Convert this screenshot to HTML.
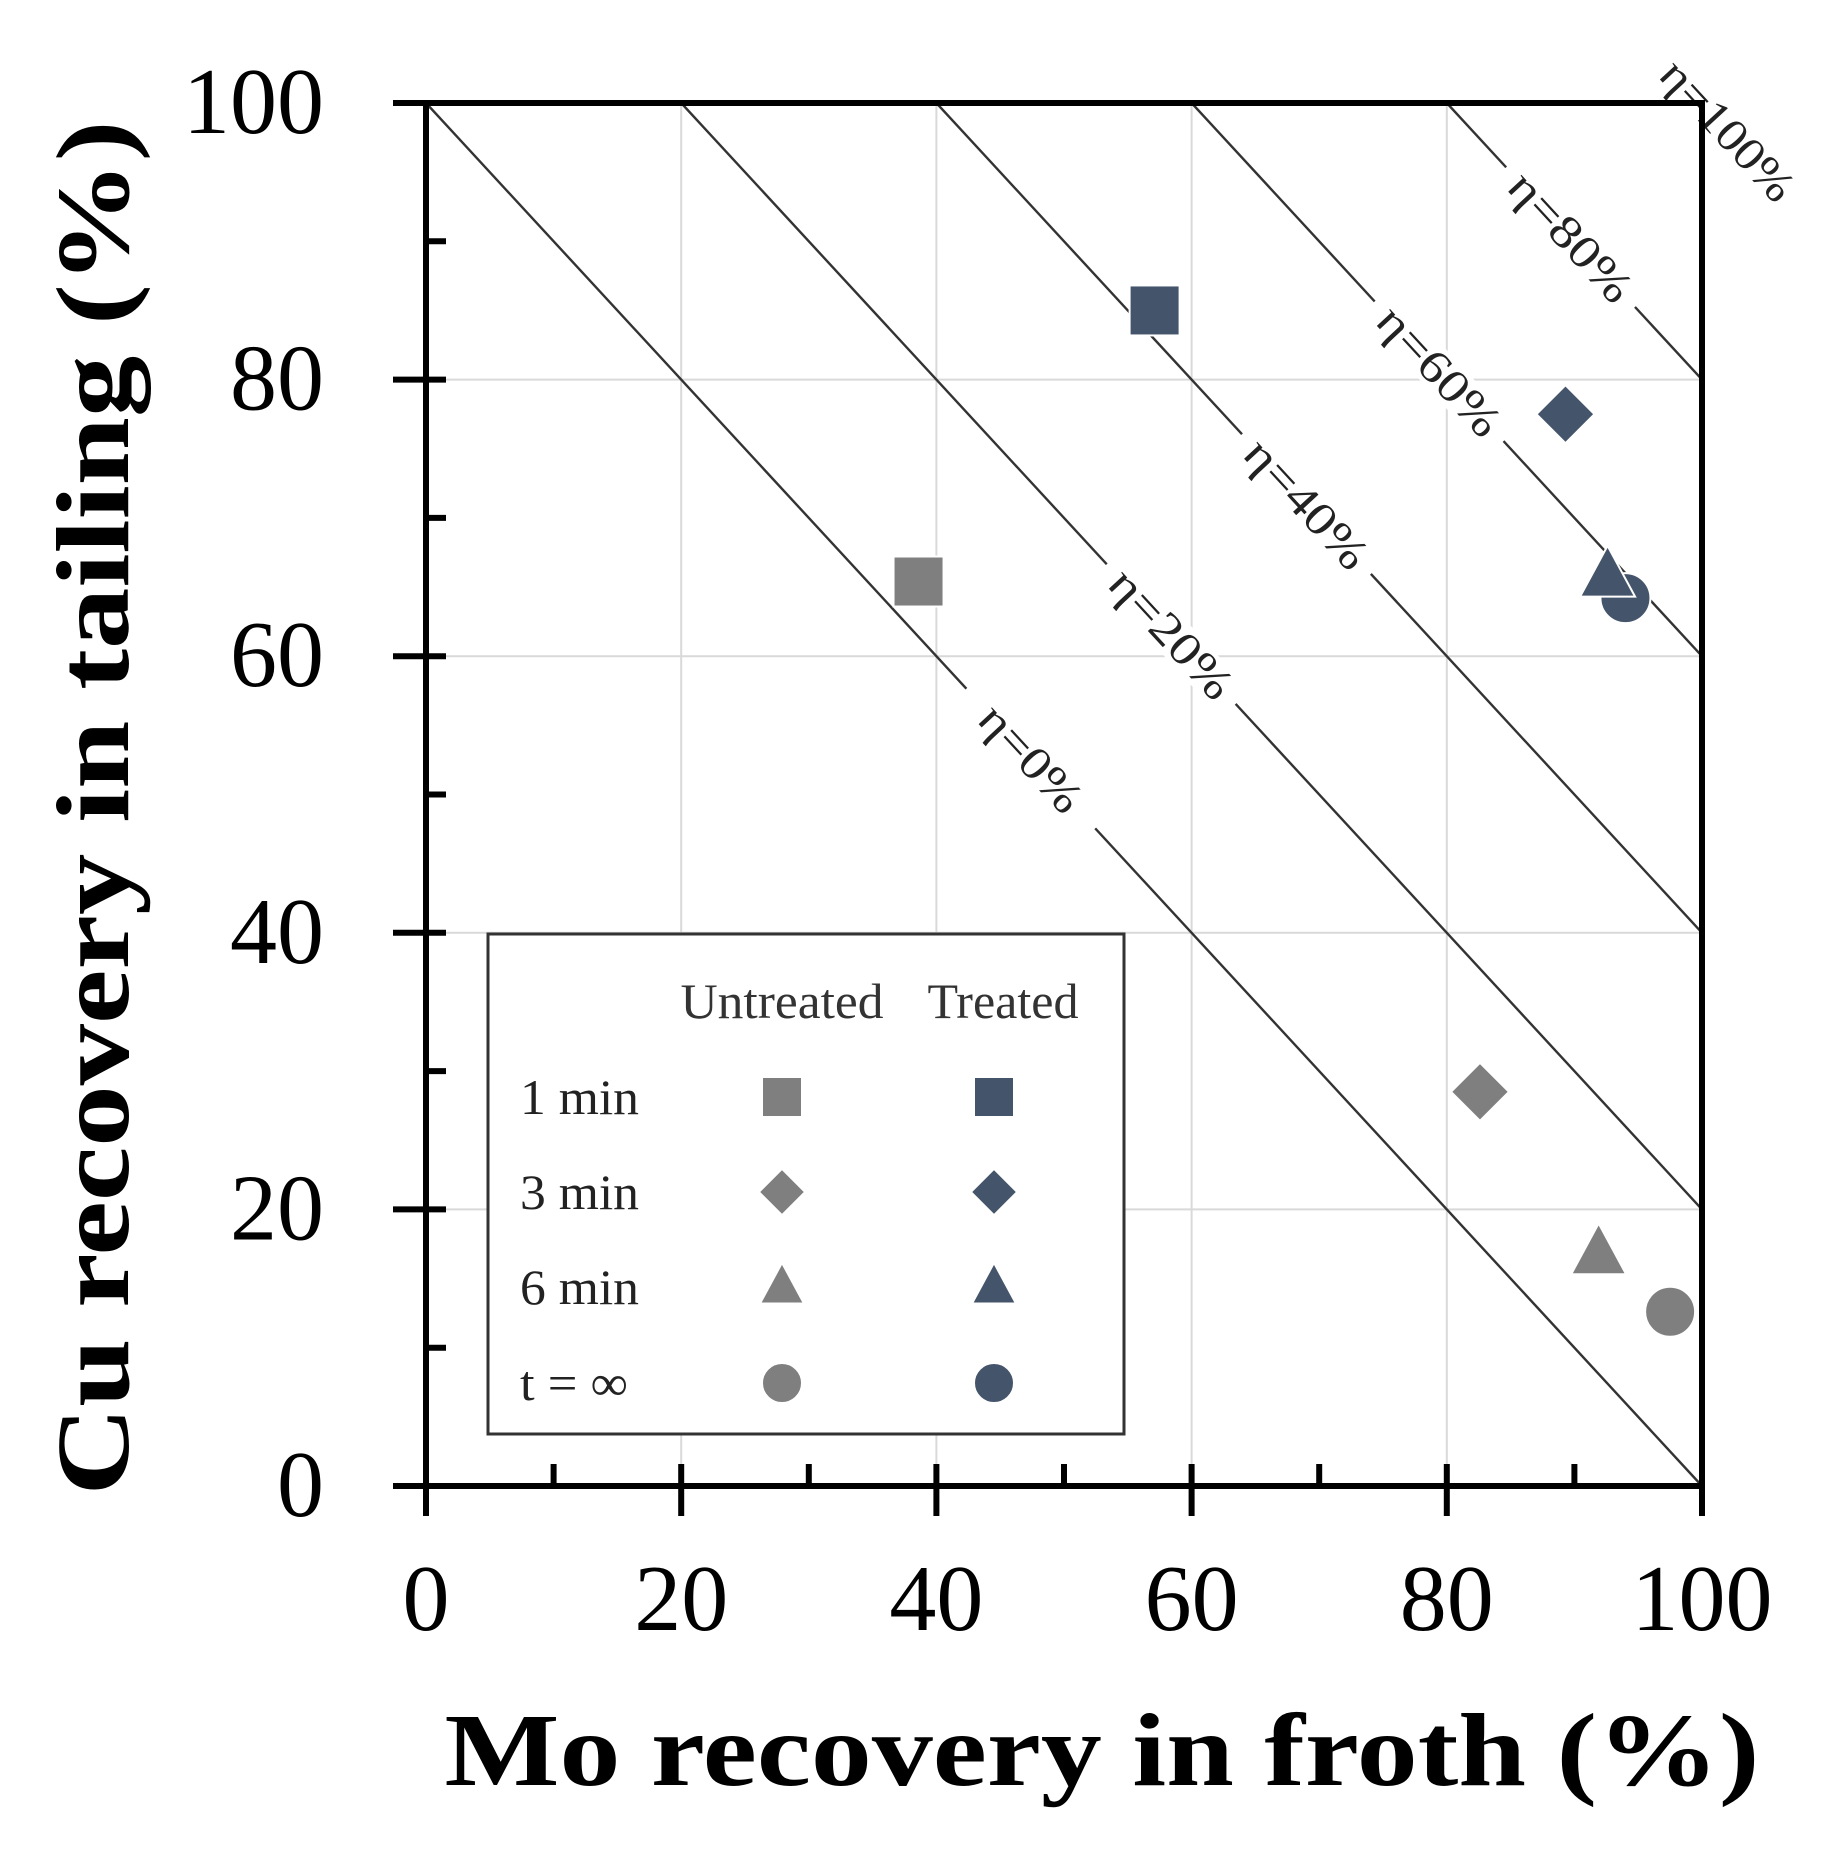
<!DOCTYPE html>
<html><head><meta charset="utf-8"><style>html,body{margin:0;padding:0;background:#fff}svg{display:block}</style></head>
<body>
<svg id="chart" width="1832" height="1864" viewBox="0 0 1832 1864" xmlns="http://www.w3.org/2000/svg" font-family="'Liberation Serif', serif">
<g id="grid"></g>
<g id="effLines"></g>
<g id="axes"></g>
<g id="points"></g>
<g id="legend"></g>
<text x="1102" y="1785" text-anchor="middle" font-size="104" font-weight="bold" textLength="1315" lengthAdjust="spacingAndGlyphs">Mo recovery  in froth (%)</text>
<text transform="translate(128,808) rotate(-90)" text-anchor="middle" font-size="104" font-weight="bold" textLength="1375" lengthAdjust="spacingAndGlyphs">Cu recovery  in tailing (%)</text>
</svg>
<script>
const xTicks = [0, 20, 40, 60, 80, 100];
const yTicks = [0, 20, 40, 60, 80, 100];
const minorTicks = [10, 30, 50, 70, 90];
const etaValues = [0, 20, 40, 60, 80, 100];
const etaLabelX = [47.4, 58.4, 69.0, 79.4, 89.7, 102.0];
const seriesNames = ['Untreated', 'Treated'];
const markerTypes = ['square', 'diamond', 'circle', 'triangle'];
const untreatedX = [38.6, 82.6, 97.5, 91.9];
const untreatedY = [65.4, 28.5, 12.6, 16.8];
const treatedX = [57.1, 89.3, 94.0, 92.6];
const treatedY = [85.0, 77.5, 64.2, 65.8];
const legendRows = ['1 min', '3 min', '6 min', 't = \u221e'];
const legendTypes = ['square', 'diamond', 'triangle', 'circle'];

const NS = 'http://www.w3.org/2000/svg';
const X0 = 426, X1 = 1702, Y0 = 1486, Y1 = 103;
const sx = v => X0 + (X1 - X0) * v / 100;
const sy = v => Y0 - (Y0 - Y1) * v / 100;
function mk(tag, attrs, parent) {
  const e = document.createElementNS(NS, tag);
  for (const k in attrs) e.setAttribute(k, attrs[k]);
  parent.appendChild(e); return e;
}
const grid = document.getElementById('grid');
const axes = document.getElementById('axes');
const eff = document.getElementById('effLines');
const pts = document.getElementById('points');
const leg = document.getElementById('legend');

[20, 40, 60, 80].forEach(v => {
  const a = mk('line', {x1: sx(v), x2: sx(v), y1: Y1, y2: Y0, stroke: '#d9d9d9', 'stroke-width': 2}, grid);
  
  
  const b = mk('line', {x1: X0, x2: X1, y1: sy(v), y2: sy(v), stroke: '#d9d9d9', 'stroke-width': 2}, grid);
  
  
});

const ang = Math.atan2(Y0 - Y1, X1 - X0) * 180 / Math.PI;
etaValues.forEach((e, i) => {
  if (e < 100) {
    const l = mk('line', {x1: sx(e), y1: sy(100), x2: sx(100), y2: sy(e), stroke: '#333', 'stroke-width': 2.4}, eff);
    
    
  }
  const lx = etaLabelX[i], ly = 100 + e - lx;
  const g = mk('g', {transform: `translate(${sx(lx)},${sy(ly)}) rotate(${ang})`}, eff);
  
  
  if (e < 100) mk('rect', {x: -95, y: -20, width: 190, height: 40, fill: '#fff'}, g);
  const t = mk('text', {x: 0, y: 15, 'text-anchor': 'middle', 'font-size': 46, fill: '#222', textLength: e === 0 ? 130 : (e === 100 ? 175 : 160), lengthAdjust: 'spacingAndGlyphs'}, g);
  t.textContent = '\u03b7=' + e + '%';
});

mk('line', {x1: 393, x2: X1 + 1, y1: Y1, y2: Y1, stroke: '#000', 'stroke-width': 6}, axes);
mk('line', {x1: X1, x2: X1, y1: Y1 - 3, y2: Y0 + 30, stroke: '#000', 'stroke-width': 6}, axes);
mk('line', {x1: X0, x2: X0, y1: Y1 - 3, y2: Y0 + 30, stroke: '#000', 'stroke-width': 6}, axes);
mk('line', {x1: 393, x2: X1 + 3, y1: Y0, y2: Y0, stroke: '#000', 'stroke-width': 6}, axes);
xTicks.forEach(v => {
  const l = mk('line', {x1: sx(v), x2: sx(v), y1: Y0 - 22, y2: Y0 + 30, stroke: '#000', 'stroke-width': 6}, axes);
  
  
  const t = mk('text', {x: sx(v), y: 1630, 'text-anchor': 'middle', 'font-size': 94}, axes);
  
  
  t.textContent = v;
});
yTicks.forEach(v => {
  const l = mk('line', {x1: 393, x2: X0 + 20, y1: sy(v), y2: sy(v), stroke: '#000', 'stroke-width': 6}, axes);
  
  
  const t = mk('text', {x: 324, y: sy(v) + 30, 'text-anchor': 'end', 'font-size': 94}, axes);
  
  
  t.textContent = v;
});
minorTicks.forEach(v => {
  const a = mk('line', {x1: sx(v), x2: sx(v), y1: Y0 - 22, y2: Y0, stroke: '#000', 'stroke-width': 6}, axes);
  
  
  const b = mk('line', {x1: X0, x2: X0 + 20, y1: sy(v), y2: sy(v), stroke: '#000', 'stroke-width': 6}, axes);
  
  
});

function marker(type, cx, cy, s, color, parent) {
  let e;
  const st = {fill: color, stroke: '#fff', 'stroke-width': 2};
  if (type === 'square') e = mk('rect', Object.assign({x: cx - s / 2, y: cy - s / 2, width: s, height: s}, st), parent);
  else if (type === 'diamond') { const r = s * 0.58; e = mk('polygon', Object.assign({points: `${cx},${cy - r} ${cx + r},${cy} ${cx},${cy + r} ${cx - r},${cy}`}, st), parent); }
  else if (type === 'triangle') { const r = s * 0.55; e = mk('polygon', Object.assign({points: `${cx},${cy - r * 1.1} ${cx + r},${cy + r * 0.75} ${cx - r},${cy + r * 0.75}`}, st), parent); }
  else e = mk('circle', Object.assign({cx: cx, cy: cy, r: s * 0.5}, st), parent);
  return e;
}
const colors = ['#7f7f7f', '#44546a'];
const xs = [untreatedX, treatedX], ys = [untreatedY, treatedY];
[0, 1].forEach(s => {
  markerTypes.forEach((m, i) => {
    const e = marker(m, sx(xs[s][i]), sy(ys[s][i]), 50, colors[s], pts);
    
    
  });
});

const box = mk('rect', {x: 488, y: 934, width: 636, height: 500, fill: '#fff', stroke: '#333', 'stroke-width': 3}, leg);


const colX = [782, 1003];
const colW = [203, 151];
seriesNames.forEach((n, s) => {
  const t = mk('text', {x: colX[s], y: 1018, 'text-anchor': 'middle', 'font-size': 50, fill: '#333', textLength: colW[s], lengthAdjust: 'spacingAndGlyphs'}, leg);
  
  
  t.textContent = n;
});
const mkX = [782, 994];
const rowY = [1097, 1192, 1287, 1383];
legendRows.forEach((r, i) => {
  const t = mk('text', {x: 520, y: rowY[i] + 17, 'font-size': 50, fill: '#222', textLength: i === 3 ? 108 : 119, lengthAdjust: 'spacingAndGlyphs'}, leg);
  
  
  t.textContent = r;
  [0, 1].forEach(s => {
    const m = marker(legendTypes[i], mkX[s], rowY[i], 40, colors[s], leg);
    
    
  });
});
</script>
</body></html>
